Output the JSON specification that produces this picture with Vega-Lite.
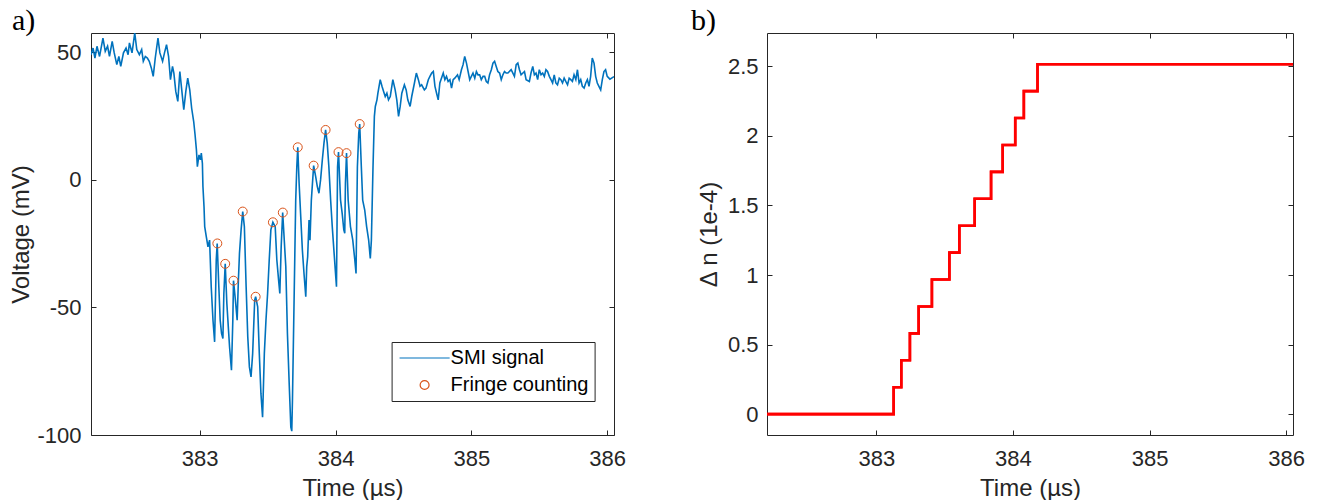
{
  "$schema": "https://vega.github.io/schema/vega-lite/v6.json",
  "padding": {"left": 9, "top": 5, "right": 5, "bottom": 0},
  "bounds": "flush",
  "spacing": 153,
  "config": {
    "view": {"stroke": null},
    "font": "Liberation Sans",
    "axis": {
      "domainColor": "#262626", "tickColor": "#262626", "labelColor": "#262626", "titleColor": "#262626",
      "labelFont": "Liberation Sans", "titleFont": "Liberation Sans", "labelFontSize": 22, "titleFontSize": 24,
      "titleFontWeight": "normal", "tickSize": -5, "grid": false, "domainWidth": 1, "tickWidth": 1
    },
    "axisX": {"labelPadding": 18, "titlePadding": 7},
    "axisY": {"labelPadding": 15, "titlePadding": 3}
  },
  "hconcat": [
    {
      "width": 523, "height": 402,
      "title": {"text": "a)", "anchor": "start", "frame": "group", "dx": -79, "dy": 29, "font": "Liberation Serif", "fontSize": 30, "fontWeight": "normal", "color": "black", "baseline": "alphabetic", "offset": 2},
      "layer": [
        {
          "data": {"values": [
            {"t":382.2,"v":49.1},{"t":382.215,"v":51.7},{"t":382.229,"v":47.8},{"t":382.244,"v":52.4},{"t":382.263,"v":48.4},
            {"t":382.288,"v":55.6},{"t":382.305,"v":50.4},{"t":382.322,"v":52.4},{"t":382.336,"v":48.4},{"t":382.356,"v":54.3},
            {"t":382.371,"v":49.8},{"t":382.39,"v":45.2},{"t":382.405,"v":48.4},{"t":382.419,"v":44.5},{"t":382.439,"v":49.8},
            {"t":382.458,"v":51.7},{"t":382.473,"v":49.1},{"t":382.483,"v":53.7},{"t":382.502,"v":49.8},{"t":382.522,"v":57.6},
            {"t":382.537,"v":51.1},{"t":382.556,"v":49.1},{"t":382.573,"v":51.1},{"t":382.585,"v":46.5},{"t":382.6,"v":48.4},
            {"t":382.615,"v":47.8},{"t":382.629,"v":46.5},{"t":382.644,"v":43.9},{"t":382.658,"v":40.6},{"t":382.673,"v":47.8},
            {"t":382.693,"v":55.6},{"t":382.707,"v":49.8},{"t":382.727,"v":46.5},{"t":382.741,"v":49.8},{"t":382.756,"v":53.0},
            {"t":382.771,"v":48.4},{"t":382.785,"v":39.3},{"t":382.8,"v":44.5},{"t":382.81,"v":41.9},{"t":382.824,"v":34.7},
            {"t":382.839,"v":30.8},{"t":382.854,"v":42.5},{"t":382.868,"v":35.3},{"t":382.883,"v":27.5},{"t":382.898,"v":34.7},
            {"t":382.912,"v":39.9},{"t":382.927,"v":35.3},{"t":382.941,"v":28.1},{"t":382.956,"v":22.9},{"t":382.966,"v":17.7},
            {"t":382.976,"v":11.8},{"t":382.983,"v":5.2},{"t":382.995,"v":9.8},{"t":383.005,"v":7.9},{"t":383.012,"v":10.5},
            {"t":383.02,"v":6.5},{"t":383.024,"v":-2.6},{"t":383.032,"v":-10.5},{"t":383.037,"v":-18.3},{"t":383.049,"v":-22.3},
            {"t":383.061,"v":-26.2},{"t":383.073,"v":-23.6},{"t":383.085,"v":-41.9},{"t":383.098,"v":-55.0},{"t":383.11,"v":-63.5},
            {"t":383.122,"v":-31.4},{"t":383.129,"v":-24.9},{"t":383.141,"v":-41.9},{"t":383.151,"v":-55.0},{"t":383.161,"v":-60.2},
            {"t":383.171,"v":-62.2},{"t":383.178,"v":-44.5},{"t":383.188,"v":-32.9},{"t":383.2,"v":-48.4},{"t":383.22,"v":-65.5},
            {"t":383.234,"v":-74.6},{"t":383.244,"v":-55.0},{"t":383.249,"v":-39.5},{"t":383.263,"v":-47.1},{"t":383.276,"v":-55.0},
            {"t":383.285,"v":-39.3},{"t":383.293,"v":-28.8},{"t":383.305,"v":-19.6},{"t":383.317,"v":-12.4},{"t":383.329,"v":-18.3},
            {"t":383.342,"v":-41.9},{"t":383.354,"v":-61.5},{"t":383.366,"v":-73.3},{"t":383.378,"v":-77.2},{"t":383.39,"v":-68.1},
            {"t":383.405,"v":-47.1},{"t":383.412,"v":-45.8},{"t":383.427,"v":-49.8},{"t":383.439,"v":-68.1},{"t":383.451,"v":-83.8},
            {"t":383.463,"v":-93.0},{"t":383.476,"v":-68.1},{"t":383.488,"v":-55.0},{"t":383.5,"v":-44.5},{"t":383.512,"v":-31.4},
            {"t":383.524,"v":-19.6},{"t":383.539,"v":-16.6},{"t":383.556,"v":-18.3},{"t":383.568,"v":-31.4},{"t":383.581,"v":-39.3},
            {"t":383.59,"v":-44.5},{"t":383.6,"v":-26.2},{"t":383.611,"v":-12.8},{"t":383.634,"v":-34.0},{"t":383.646,"v":-60.2},
            {"t":383.659,"v":-79.9},{"t":383.671,"v":-96.9},{"t":383.678,"v":-98.5},{"t":383.683,"v":-86.4},{"t":383.695,"v":-47.1},
            {"t":383.707,"v":-7.9},{"t":383.715,"v":5.2},{"t":383.722,"v":12.8},{"t":383.732,"v":-1.3},{"t":383.744,"v":-14.4},
            {"t":383.756,"v":-27.5},{"t":383.768,"v":-36.7},{"t":383.781,"v":-45.8},{"t":383.788,"v":-34.0},{"t":383.795,"v":-30.1},
            {"t":383.805,"v":-15.7},{"t":383.812,"v":-23.6},{"t":383.822,"v":-7.9},{"t":383.839,"v":5.6},{"t":383.854,"v":1.3},
            {"t":383.866,"v":-2.6},{"t":383.878,"v":-5.2},{"t":383.89,"v":0.0},{"t":383.903,"v":7.9},{"t":383.915,"v":14.4},
            {"t":383.927,"v":19.6},{"t":383.939,"v":14.4},{"t":383.951,"v":5.2},{"t":383.964,"v":-7.9},{"t":383.976,"v":-18.3},
            {"t":383.988,"v":-27.5},{"t":384.0,"v":-36.7},{"t":384.007,"v":-41.9},{"t":384.015,"v":5.2},{"t":384.022,"v":10.9},
            {"t":384.037,"v":-7.9},{"t":384.049,"v":-13.1},{"t":384.061,"v":-19.6},{"t":384.068,"v":-20.9},{"t":384.073,"v":-1.3},
            {"t":384.081,"v":10.5},{"t":384.093,"v":-7.9},{"t":384.11,"v":-18.3},{"t":384.127,"v":-23.6},{"t":384.142,"v":-31.4},
            {"t":384.151,"v":-36.7},{"t":384.161,"v":5.2},{"t":384.171,"v":18.3},{"t":384.178,"v":21.9},{"t":384.19,"v":5.2},
            {"t":384.2,"v":-7.9},{"t":384.215,"v":-11.8},{"t":384.229,"v":-18.3},{"t":384.244,"v":-23.6},{"t":384.256,"v":-30.8},
            {"t":384.264,"v":-23.6},{"t":384.276,"v":5.2},{"t":384.286,"v":24.9},{"t":384.293,"v":28.8},{"t":384.305,"v":31.4},
            {"t":384.312,"v":34.0},{"t":384.329,"v":39.3},{"t":384.342,"v":36.7},{"t":384.354,"v":34.7},{"t":384.366,"v":32.7},
            {"t":384.378,"v":34.0},{"t":384.39,"v":31.4},{"t":384.403,"v":32.7},{"t":384.422,"v":39.3},{"t":384.439,"v":35.3},
            {"t":384.451,"v":31.4},{"t":384.464,"v":24.9},{"t":384.476,"v":28.8},{"t":384.488,"v":34.0},{"t":384.507,"v":37.3},
            {"t":384.52,"v":35.3},{"t":384.532,"v":31.4},{"t":384.549,"v":28.8},{"t":384.561,"v":32.7},{"t":384.581,"v":38.0},
            {"t":384.595,"v":41.9},{"t":384.61,"v":39.3},{"t":384.622,"v":36.7},{"t":384.634,"v":37.3},{"t":384.654,"v":35.3},
            {"t":384.666,"v":36.0},{"t":384.683,"v":39.3},{"t":384.695,"v":40.6},{"t":384.708,"v":41.9},{"t":384.72,"v":42.5},
            {"t":384.732,"v":36.7},{"t":384.744,"v":34.0},{"t":384.756,"v":31.4},{"t":384.768,"v":38.0},{"t":384.793,"v":41.9},
            {"t":384.805,"v":39.3},{"t":384.817,"v":40.6},{"t":384.829,"v":38.6},{"t":384.842,"v":39.3},{"t":384.854,"v":36.0},
            {"t":384.866,"v":39.3},{"t":384.878,"v":39.9},{"t":384.898,"v":41.2},{"t":384.91,"v":39.3},{"t":384.927,"v":43.2},
            {"t":384.939,"v":45.2},{"t":384.951,"v":48.4},{"t":384.964,"v":45.8},{"t":384.976,"v":42.5},{"t":384.988,"v":39.3},
            {"t":385.0,"v":40.6},{"t":385.012,"v":41.9},{"t":385.025,"v":39.9},{"t":385.037,"v":42.5},{"t":385.049,"v":41.2},
            {"t":385.061,"v":41.2},{"t":385.073,"v":39.3},{"t":385.086,"v":40.6},{"t":385.098,"v":40.6},{"t":385.11,"v":38.6},
            {"t":385.122,"v":38.0},{"t":385.134,"v":41.2},{"t":385.147,"v":43.2},{"t":385.159,"v":45.8},{"t":385.171,"v":46.5},
            {"t":385.183,"v":44.5},{"t":385.195,"v":42.5},{"t":385.208,"v":41.9},{"t":385.22,"v":39.3},{"t":385.232,"v":41.2},
            {"t":385.244,"v":42.5},{"t":385.256,"v":41.9},{"t":385.269,"v":41.9},{"t":385.293,"v":43.2},{"t":385.317,"v":40.6},
            {"t":385.33,"v":45.2},{"t":385.342,"v":45.8},{"t":385.354,"v":43.2},{"t":385.366,"v":41.2},{"t":385.391,"v":42.5},
            {"t":385.403,"v":39.3},{"t":385.427,"v":38.6},{"t":385.439,"v":41.9},{"t":385.452,"v":44.5},{"t":385.464,"v":41.2},
            {"t":385.476,"v":41.9},{"t":385.488,"v":39.3},{"t":385.5,"v":43.2},{"t":385.513,"v":41.2},{"t":385.525,"v":41.9},
            {"t":385.537,"v":40.6},{"t":385.549,"v":43.2},{"t":385.561,"v":42.5},{"t":385.574,"v":40.6},{"t":385.586,"v":39.3},
            {"t":385.598,"v":38.0},{"t":385.61,"v":41.2},{"t":385.622,"v":38.0},{"t":385.634,"v":37.3},{"t":385.647,"v":39.9},
            {"t":385.659,"v":39.3},{"t":385.671,"v":38.0},{"t":385.683,"v":39.9},{"t":385.695,"v":38.6},{"t":385.708,"v":37.3},
            {"t":385.72,"v":39.9},{"t":385.732,"v":39.3},{"t":385.744,"v":38.6},{"t":385.756,"v":41.2},{"t":385.769,"v":39.3},
            {"t":385.781,"v":43.2},{"t":385.793,"v":38.0},{"t":385.805,"v":39.3},{"t":385.817,"v":36.7},{"t":385.83,"v":36.0},
            {"t":385.842,"v":38.0},{"t":385.854,"v":39.3},{"t":385.866,"v":36.7},{"t":385.878,"v":40.6},{"t":385.89,"v":47.8},
            {"t":385.903,"v":45.8},{"t":385.915,"v":40.6},{"t":385.927,"v":38.0},{"t":385.939,"v":36.7},{"t":385.952,"v":35.3},
            {"t":385.964,"v":39.3},{"t":385.976,"v":42.5},{"t":385.988,"v":43.2},{"t":386.0,"v":40.6},{"t":386.02,"v":39.5},
            {"t":386.05,"v":40.5}
          ]},
          "mark": {"type": "line", "color": "#0072BD", "strokeWidth": 1.6, "clip": true},
          "encoding": {
            "x": {"field": "t", "type": "quantitative", "scale": {"domain": [382.2, 386.05], "nice": false, "zero": false},
                  "axis": {"orient": "bottom", "values": [383, 384, 385, 386], "title": "Time (µs)", "labelExpr": "'' + datum.value"}},
            "y": {"field": "v", "type": "quantitative", "scale": {"domain": [-100, 57.6], "nice": false, "zero": false},
                  "axis": {"orient": "left", "values": [-100, -50, 0, 50], "title": "Voltage (mV)", "labelExpr": "'' + datum.value"}}
          }
        },
        {
          "data": {"values": [
            {"t":383.13,"v":-24.9,"s":"Fringe counting"},{"t":383.188,"v":-32.9,"s":"Fringe counting"},{"t":383.249,"v":-39.5,"s":"Fringe counting"},
            {"t":383.317,"v":-12.4,"s":"Fringe counting"},{"t":383.412,"v":-45.8,"s":"Fringe counting"},{"t":383.539,"v":-16.6,"s":"Fringe counting"},
            {"t":383.612,"v":-12.8,"s":"Fringe counting"},{"t":383.722,"v":12.8,"s":"Fringe counting"},{"t":383.839,"v":5.6,"s":"Fringe counting"},
            {"t":383.927,"v":19.6,"s":"Fringe counting"},{"t":384.022,"v":10.9,"s":"Fringe counting"},{"t":384.081,"v":10.5,"s":"Fringe counting"},
            {"t":384.178,"v":21.9,"s":"Fringe counting"}
          ]},
          "mark": {"type": "point", "filled": false, "size": 80, "strokeWidth": 1, "opacity": 1},
          "encoding": {
            "x": {"field": "t", "type": "quantitative", "axis": {"orient": "top", "values": [383, 384, 385, 386], "labels": false, "title": null}},
            "y": {"field": "v", "type": "quantitative", "axis": {"orient": "right", "values": [-100, -50, 0, 50], "labels": false, "title": null}},
            "color": {"field": "s", "type": "nominal",
                      "scale": {"domain": ["SMI signal", "Fringe counting"], "range": ["#0072BD", "#D95319"]},
                      "legend": {"orient": "none", "legendX": 300.6, "legendY": 309, "title": null,
                                 "strokeColor": "#262626", "fillColor": "white", "padding": 6,
                                 "labelFont": "Liberation Sans", "labelFontSize": 20, "labelColor": "black",
                                 "symbolSize": 80, "symbolStrokeWidth": 1.2, "symbolOffset": 17, "labelOffset": 16, "rowPadding": 7}},
            "shape": {"field": "s", "type": "nominal",
                      "scale": {"domain": ["SMI signal", "Fringe counting"], "range": ["M-5.6,0H5.6", "circle"]}}
          }
        }
      ],
      "resolve": {"axis": {"x": "independent", "y": "independent"}}
    },
    {
      "width": 526, "height": 402,
      "title": {"text": "b)", "anchor": "start", "frame": "group", "dx": -76, "dy": 29, "font": "Liberation Serif", "fontSize": 30, "fontWeight": "normal", "color": "black", "baseline": "alphabetic", "offset": 2},
      "data": {"values": [
        {"t":382.2,"dn":0},{"t":383.127,"dn":0.1935},{"t":383.183,"dn":0.387},{"t":383.246,"dn":0.5805},{"t":383.31,"dn":0.774},
        {"t":383.407,"dn":0.9675},{"t":383.535,"dn":1.161},{"t":383.608,"dn":1.3545},{"t":383.72,"dn":1.548},{"t":383.84,"dn":1.7415},
        {"t":383.925,"dn":1.935},{"t":384.017,"dn":2.1285},{"t":384.08,"dn":2.322},{"t":384.18,"dn":2.5155},{"t":386.05,"dn":2.5155}
      ]},
      "layer": [
        {
          "mark": {"type": "line", "color": "#FF0000", "strokeWidth": 2.6, "interpolate": "step-after", "clip": true},
          "encoding": {
            "x": {"field": "t", "type": "quantitative", "scale": {"domain": [382.2, 386.05], "nice": false, "zero": false},
                  "axis": {"orient": "bottom", "values": [383, 384, 385, 386], "title": "Time (µs)", "labelExpr": "'' + datum.value"}},
            "y": {"field": "dn", "type": "quantitative", "scale": {"domain": [-0.15, 2.74], "nice": false, "zero": false},
                  "axis": {"orient": "left", "values": [0, 0.5, 1, 1.5, 2, 2.5], "title": "Δ n (1e-4)", "labelExpr": "'' + datum.value", "labelPadding": 14, "titlePadding": 6}}
          }
        },
        {
          "mark": {"type": "line", "color": "#FF0000", "strokeWidth": 2.6, "interpolate": "step-after", "clip": true},
          "encoding": {
            "x": {"field": "t", "type": "quantitative", "axis": {"orient": "top", "values": [383, 384, 385, 386], "labels": false, "title": null}},
            "y": {"field": "dn", "type": "quantitative", "axis": {"orient": "right", "values": [0, 0.5, 1, 1.5, 2, 2.5], "labels": false, "title": null}}
          }
        }
      ],
      "resolve": {"axis": {"x": "independent", "y": "independent"}}
    }
  ]
}
